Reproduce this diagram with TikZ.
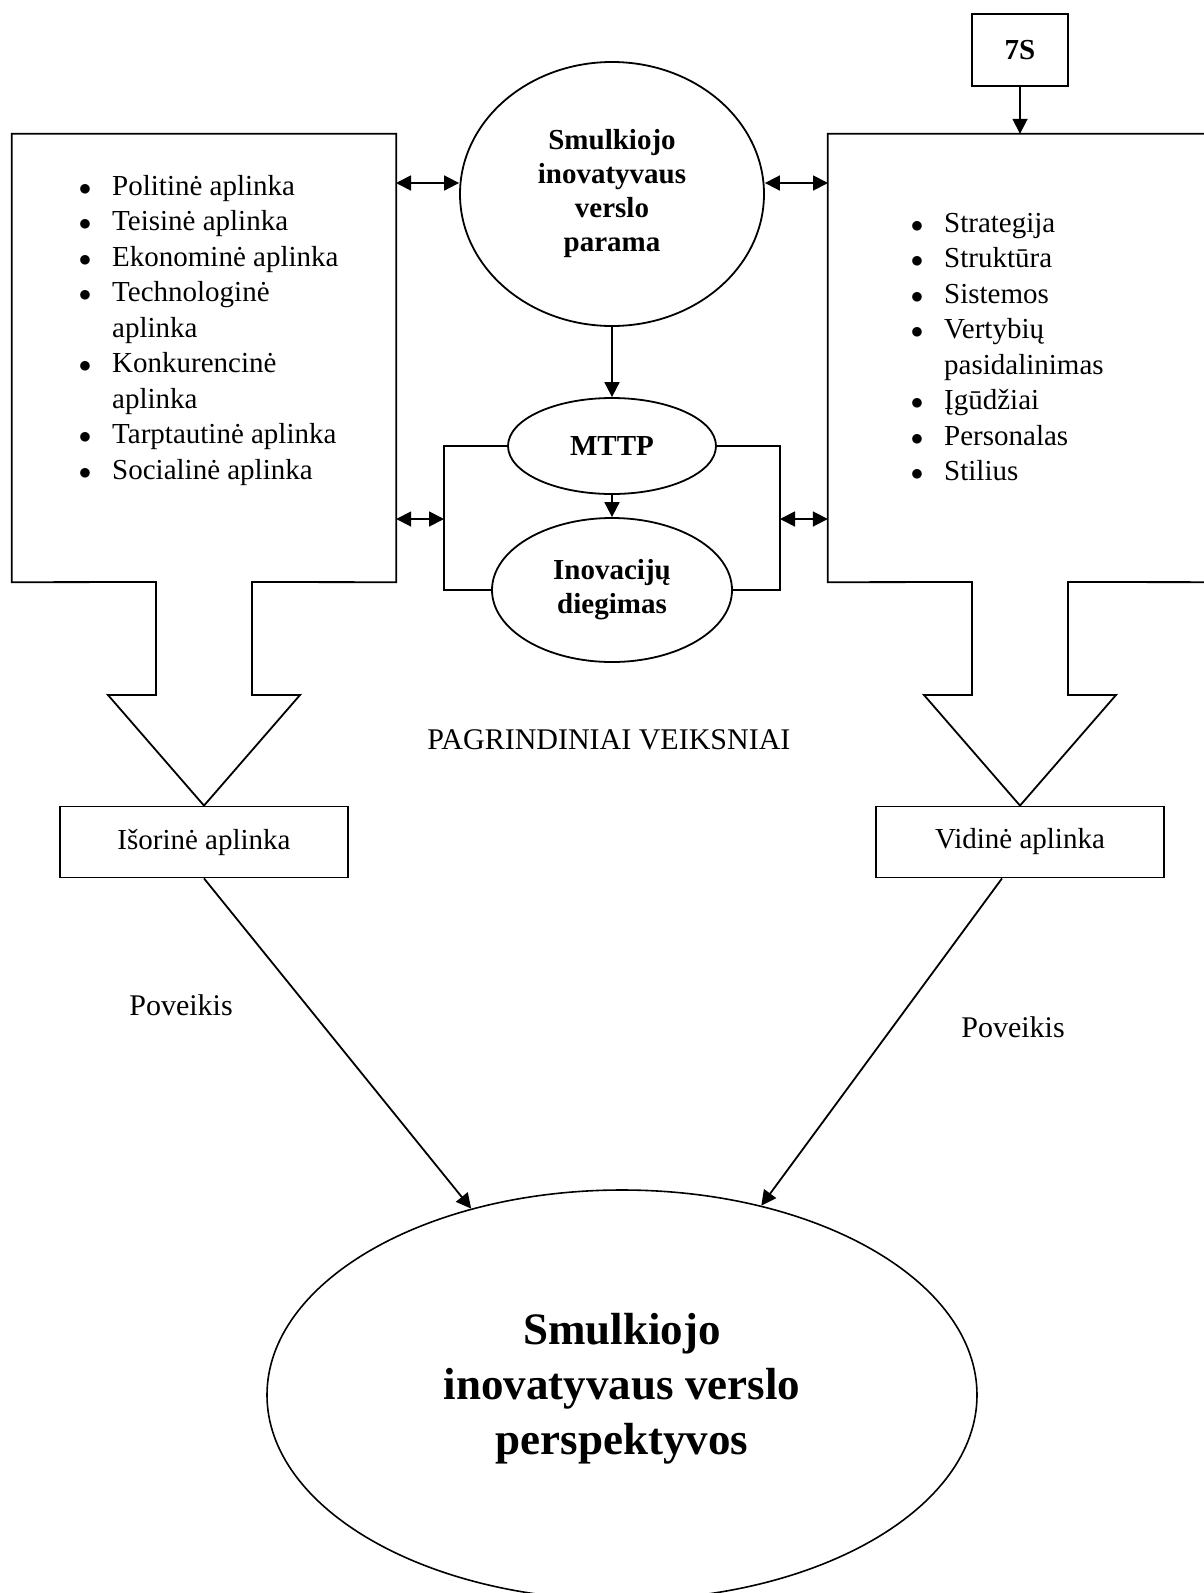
\documentclass[tikz,border=0pt]{standalone}
\usepackage{fontspec}
\setmainfont{Liberation Serif}
\usetikzlibrary{shapes.geometric,arrows.meta,calc}
\tikzstyle{line} = [line width=1.8pt]
\tikzstyle{arr} = [line width=1.8pt, -{Triangle[length=15pt,width=15pt]}]
\tikzstyle{darr} = [line width=1.8pt, {Triangle[length=15pt,width=15pt]}-{Triangle[length=15pt,width=15pt]}]
\tikzstyle{oval} = [
    draw,
    ellipse,
    line width=1.8pt,
    inner sep=0pt,
    align=center,
    font=\bfseries\fontsize{29}{34}\selectfont
    ]
\tikzstyle{plainbox} = [
    draw,
    rectangle,
    line width=1.8pt,
    inner sep=0pt,
    font=\fontsize{29}{35}\selectfont
    ]
\tikzstyle{txt} = [font=\fontsize{30}{36}\selectfont]
\tikzstyle{lst} = [anchor=base west, inner sep=0pt, font=\fontsize{29}{35.5}\selectfont]
\renewcommand{\labelitemi}{$\bullet$}
\newcommand{\listlook}{% list spacing
\setlength{\itemsep}{0pt}\setlength{\parsep}{0pt}\setlength{\parskip}{0pt}\setlength{\labelsep}{21pt}}

\begin{document}
\begin{tikzpicture}[x=1pt, y=-1pt]
\useasboundingbox (0,0) rectangle (1204,1593);
\clip (0,0) rectangle (1204,1593);

% middle
\node[oval, minimum width=304pt, minimum height=264pt] (parama) at (612,194) {Smulkiojo\\inovatyvaus\\verslo\\parama};
\node[oval, minimum width=208pt, minimum height=96pt] (mttp) at (612,446) {MTTP};
\node[oval, minimum width=240pt, minimum height=144pt] (inov) at (612,590) {Inovacijų\\diegimas};

% boxes
\node[minimum width=384pt, minimum height=448pt] (ext) at (204,358) {};
\node[minimum width=412pt, minimum height=448pt] (int) at (1034,358) {};
\node[plainbox, font=\bfseries\fontsize{29}{34}\selectfont, minimum width=96pt, minimum height=72pt] (s7) at (1020,50) {7S};
\node[plainbox, minimum width=288pt, minimum height=71pt] (isor) at (204,842) {Išorinė aplinka};
\node[plainbox, minimum width=288pt, minimum height=71pt] (vid) at (1020,842) {Vidinė aplinka};

\draw[line] (ext.south west) -- (ext.north west) -- (ext.north east) -- (ext.south east)
    -- (252,582) -- (252,695) -- (300,695) -- (isor.north) -- (108,695) -- (156,695) -- (156,582) -- cycle;
\draw[line] (int.north east) -- (int.north west) -- (int.south west)
    -- (972,582) -- (972,695) -- (924,695) -- (vid.north) -- (1116,695) -- (1068,695) -- (1068,582) -- (int.south east);

\node[lst] (extlist) at (52,195) {%
    \begin{minipage}[t]{330pt}\raggedright
    \setlength{\leftmargini}{60pt}
    \begin{itemize}\listlook
    \item Politinė aplinka
    \item Teisinė aplinka
    \item Ekonominė aplinka
    \item Technologinė\newline aplinka
    \item Konkurencinė\newline aplinka
    \item Tarptautinė aplinka
    \item Socialinė aplinka
    \end{itemize}
    \end{minipage}};
\node[lst] (intlist) at (884,232) {%
    \begin{minipage}[t]{310pt}\raggedright
    \setlength{\leftmargini}{60pt}
    \begin{itemize}\listlook
    \item Strategija
    \item Struktūra
    \item Sistemos
    \item Vertybių\newline pasidalinimas
    \item Įgūdžiai
    \item Personalas
    \item Stilius
    \end{itemize}
    \end{minipage}};

% connectors
\coordinate (l1) at (396,183);
\coordinate (r1) at (828,183);
\coordinate (bl) at (444,519);
\coordinate (br) at (780,519);
\draw[darr] (l1) -- (l1 -| parama.west);
\draw[darr] (parama.east |- r1) -- (r1);
\draw[arr] (parama) -- (mttp);
\draw[arr] (mttp) -- (inov);
\draw[arr] (s7) -- (s7.south |- int.north);
\draw[line] (mttp.west) -- (mttp.west -| bl) -- (inov.west -| bl) -- (inov.west);
\draw[line] (mttp.east) -- (mttp.east -| br) -- (inov.east -| br) -- (inov.east);
\draw[darr] (bl -| ext.east) -- (bl);
\draw[darr] (br) -- (br -| int.west);

\node[txt] (veiksn) at (609,740) {PAGRINDINIAI VEIKSNIAI};

\node[oval, line width=1.6pt, font=\bfseries\fontsize{45}{55}\selectfont, text depth=22pt, minimum width=710pt, minimum height=410pt] (persp) at (622,1395) {Smulkiojo\\inovatyvaus verslo\\perspektyvos};
\draw[arr] (isor.south) -- (persp);
\draw[arr] ([xshift=-18pt]vid.south) -- (persp);
\node[txt] (pov1) at (181,1005) {Poveikis};
\node[txt] (pov2) at (1013,1027) {Poveikis};
\end{tikzpicture}
\end{document}
